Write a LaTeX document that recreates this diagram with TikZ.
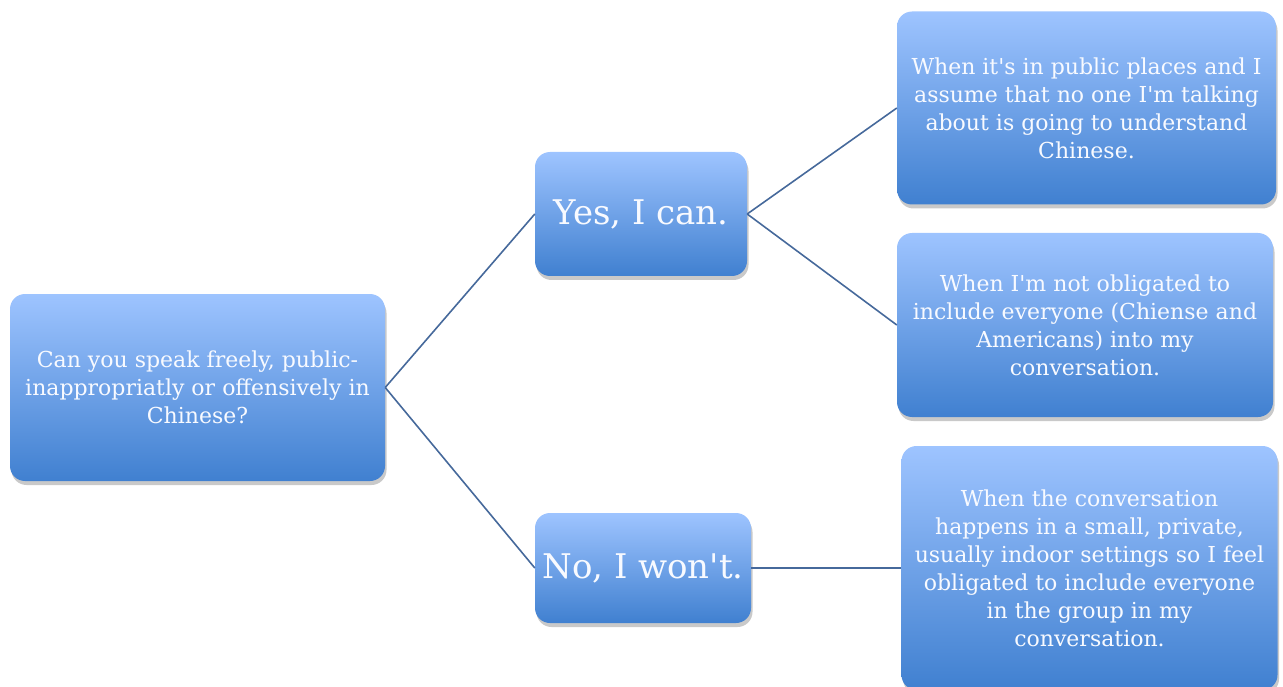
\documentclass[tikz,border=0pt]{standalone}
\usepackage{fontspec}
\setmainfont{DejaVu Serif}[Ligatures=TeXOff]
\usetikzlibrary{shadows}
\definecolor{boxtop}{RGB}{158,196,255}
\definecolor{boxbot}{RGB}{64,128,208}
\definecolor{linkcol}{RGB}{70,105,155}
\definecolor{txt}{RGB}{248,250,255}
\tikzset{
  box/.style={rounded corners=15pt, top color=boxtop, bottom color=boxbot, draw=none,
    text=txt, align=center, inner sep=0pt,
    drop shadow={shadow xshift=1.5pt, shadow yshift=-4pt, opacity=0.3, fill=black!70}},
  body/.style={font=\fontsize{22}{28}\selectfont},
  big/.style={font=\fontsize{34}{40}\selectfont},
  link/.style={draw=linkcol, line width=1.6pt},
}
\begin{document}
\begin{tikzpicture}[x=1pt,y=-1pt]
\useasboundingbox (0,0) rectangle (1283,687);
\node[box, body, minimum width=375pt, minimum height=187pt] (q) at (197.5,387.5)
  {Can you speak freely, public-\\inappropriatly or offensively in\\Chinese?};
\node[box, big, minimum width=212pt, minimum height=124pt] (yes) at (641,214) {Yes, I can.};
\node[box, big, minimum width=216pt, minimum height=110pt] (no) at (643,568) {No, I won't.};
\node[box, body, minimum width=379pt, minimum height=193pt] (a1) at (1086.5,108)
  {When it's in public places and I\\assume that no one I'm talking\\about is going to understand\\Chinese.};
\node[box, body, minimum width=376pt, minimum height=184pt] (a2) at (1085,325)
  {When I'm not obligated to\\include everyone (Chiense and\\Americans) into my\\conversation.};
\node[box, body, minimum width=376pt, minimum height=244pt] (a3) at (1089.5,568)
  {When the conversation\\happens in a small, private,\\usually indoor settings so I feel\\obligated to include everyone\\in the group in my\\conversation.};
\draw[link] (q.east) -- (yes.west);
\draw[link] (q.east) -- (no.west);
\draw[link] (yes.east) -- (a1.west);
\draw[link] (yes.east) -- (a2.west);
\draw[link] (no.east) -- (a3.west);
\end{tikzpicture}
\end{document}
